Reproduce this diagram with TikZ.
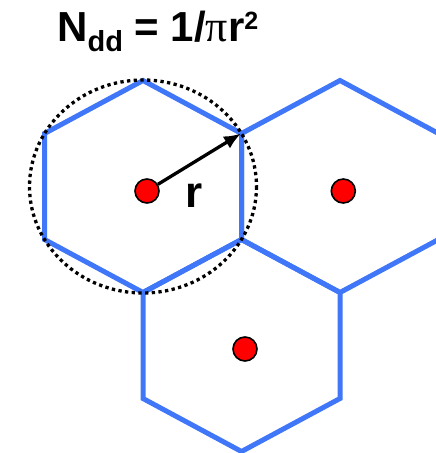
\documentclass[tikz,border=0pt]{standalone}
\usepackage{fontspec}
\setmainfont{Liberation Sans}
\newfontfamily\greekfont{Liberation Serif}
\usetikzlibrary{arrows.meta}
\definecolor{cellblue}{RGB}{64,118,248}
\definecolor{dotred}{RGB}{255,0,0}

\begin{document}
\begin{tikzpicture}[x=1pt,y=-1pt,
    cell/.style={draw=cellblue,line width=5pt,line join=miter},
    rim/.style={draw=black,line width=3.3pt,dash pattern=on 3.3pt off 3.4pt},
    site/.style={circle,draw=black,line width=1.6pt,fill=dotred,minimum size=24pt,inner sep=0pt}]
    \useasboundingbox (0,0) rectangle (436,453);
    \clip (0,0) rectangle (436,453);
    % cells
    \foreach \cx/\cy in {143/186.5,340/186.5,241.5/345.5}
      \draw[cell] (\cx,\cy-106) -- ++(98.5,53) -- ++(0,106) -- ++(-98.5,53)
        -- ++(-98.5,-53) -- ++(0,-106) -- cycle;
    \draw[rim] (143,186.5) ellipse [x radius=113.5,y radius=106.5];
    % sites
    \node[site] (s1) at (147,191) {};
    \node[site] (s2) at (343.3,191) {};
    \node[site] (s3) at (245,349) {};
    \coordinate (tip) at (241,133.5);
    \draw[-{Latex[length=17pt,width=14pt]},line width=3.3pt] (s1) -- (tip);
    \node[anchor=base west,inner sep=0pt,font=\fontsize{44}{44}\selectfont\bfseries] (rlab) at (185,207) {r};
    \node[anchor=base west,inner sep=0pt,font=\fontsize{42}{42}\selectfont\bfseries] (title) at (57,41.5)
      {N\raisebox{-9.5pt}{\fontsize{29}{29}\selectfont dd} = 1/{\greekfont\mdseries\fontsize{44}{44}\selectfont π}r\raisebox{12pt}{\fontsize{25}{25}\selectfont 2}};
\end{tikzpicture}
\end{document}
